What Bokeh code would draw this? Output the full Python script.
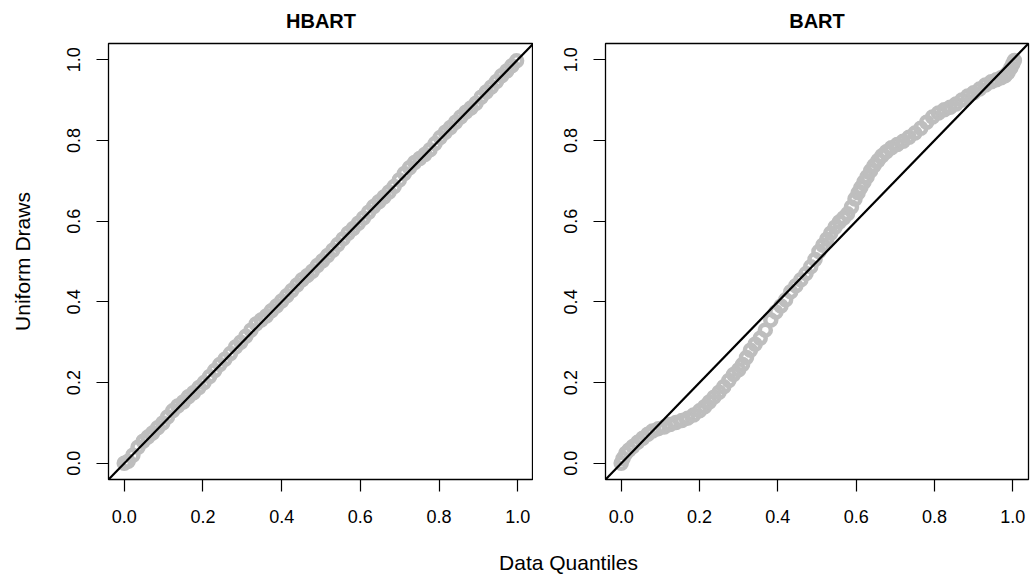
from bokeh.plotting import figure
from bokeh.layouts import row, column
from bokeh.models import Range1d, FixedTicker, Slope, Label
from bokeh.embed import file_html
from bokeh.resources import INLINE

# ---------------- data ----------------
ticks = [0.0, 0.2, 0.4, 0.6, 0.8, 1.0]
tick_labels = ["0.0", "0.2", "0.4", "0.6", "0.8", "1.0"]
panel_titles = ["HBART", "BART"]
x_label = "Data Quantiles"
y_label = "Uniform Draws"

hbart_x = [0.000, 0.010, 0.022, 0.035, 0.048, 0.060, 0.072, 0.085, 0.098, 0.110,
           0.123, 0.136, 0.150, 0.163, 0.176, 0.190, 0.203, 0.217, 0.230, 0.243,
           0.256, 0.270, 0.283, 0.296, 0.309, 0.322, 0.335, 0.348, 0.361, 0.374,
           0.387, 0.400, 0.413, 0.426, 0.439, 0.452, 0.465, 0.478, 0.491, 0.504,
           0.517, 0.530, 0.543, 0.556, 0.569, 0.582, 0.595, 0.608, 0.621, 0.634,
           0.647, 0.660, 0.673, 0.686, 0.699, 0.712, 0.725, 0.738, 0.751, 0.764,
           0.777, 0.790, 0.803, 0.816, 0.829, 0.842, 0.855, 0.868, 0.881, 0.894,
           0.907, 0.920, 0.933, 0.946, 0.959, 0.972, 0.985, 0.997]
hbart_y = [0.000, 0.005, 0.020, 0.040, 0.055, 0.065, 0.075, 0.088, 0.100, 0.115,
           0.130, 0.142, 0.152, 0.165, 0.175, 0.188, 0.200, 0.215, 0.230, 0.245,
           0.258, 0.272, 0.288, 0.300, 0.315, 0.330, 0.345, 0.355, 0.365, 0.378,
           0.390, 0.402, 0.415, 0.428, 0.442, 0.455, 0.465, 0.476, 0.490, 0.502,
           0.515, 0.528, 0.542, 0.556, 0.570, 0.582, 0.595, 0.608, 0.622, 0.636,
           0.648, 0.660, 0.672, 0.686, 0.702, 0.718, 0.732, 0.745, 0.755, 0.765,
           0.777, 0.792, 0.807, 0.820, 0.832, 0.845, 0.858, 0.870, 0.880, 0.892,
           0.907, 0.920, 0.932, 0.946, 0.960, 0.972, 0.985, 0.997]

bart_x = [0.000, 0.005, 0.012, 0.020, 0.030, 0.042, 0.055, 0.068, 0.080, 0.095,
          0.110, 0.125, 0.140, 0.155, 0.170, 0.185, 0.200, 0.213, 0.225, 0.237,
          0.250, 0.262, 0.275, 0.287, 0.300, 0.310, 0.320, 0.330, 0.342, 0.355,
          0.368, 0.382, 0.395, 0.408, 0.420, 0.433, 0.446, 0.459, 0.472, 0.484,
          0.495, 0.505, 0.515, 0.525, 0.535, 0.546, 0.557, 0.568, 0.578, 0.588,
          0.597, 0.605, 0.612, 0.620, 0.628, 0.637, 0.646, 0.656, 0.666, 0.677,
          0.690, 0.705, 0.720, 0.735, 0.750, 0.765, 0.780, 0.795, 0.810, 0.825,
          0.840, 0.855, 0.870, 0.885, 0.900, 0.915, 0.930, 0.945, 0.958, 0.970,
          0.980, 0.988, 0.995, 1.000, 1.004]
bart_y = [0.000, 0.012, 0.025, 0.033, 0.042, 0.052, 0.062, 0.072, 0.080, 0.086,
          0.090, 0.096, 0.101, 0.106, 0.112, 0.120, 0.130, 0.140, 0.152, 0.164,
          0.176, 0.190, 0.205, 0.220, 0.232, 0.245, 0.262, 0.280, 0.295, 0.310,
          0.330, 0.355, 0.375, 0.390, 0.405, 0.425, 0.440, 0.455, 0.470, 0.487,
          0.505, 0.525, 0.540, 0.555, 0.570, 0.585, 0.598, 0.608, 0.618, 0.635,
          0.655, 0.670, 0.683, 0.697, 0.710, 0.725, 0.738, 0.750, 0.762, 0.772,
          0.782, 0.790, 0.798, 0.808, 0.818, 0.830, 0.845, 0.858, 0.868, 0.876,
          0.882, 0.890, 0.900, 0.910, 0.918, 0.927, 0.937, 0.945, 0.950, 0.955,
          0.960, 0.968, 0.980, 0.990, 0.998]

FONT = "Liberation Sans"
POINT_COLOR = "#BEBEBE"
TOTAL_W = 1031


def strip(height):
    s = figure(width=TOTAL_W, height=height,
               x_range=Range1d(0, TOTAL_W), y_range=Range1d(0, height),
               output_backend="svg", toolbar_location=None,
               min_border_left=0, min_border_right=0,
               min_border_top=0, min_border_bottom=0)
    s.axis.visible = False
    s.xgrid.visible = False
    s.ygrid.visible = False
    s.outline_line_color = None
    return s


def make_panel(xs, ys, width, border_left, border_right, show_ylabel):
    p = figure(width=width, height=499,
               x_range=Range1d(-0.04, 1.04), y_range=Range1d(-0.04, 1.04),
               output_backend="svg", toolbar_location=None,
               min_border_left=border_left, min_border_right=border_right,
               min_border_top=2, min_border_bottom=61)
    p.background_fill_color = "white"
    p.border_fill_color = "white"
    p.outline_line_color = "black"
    p.outline_line_width = 1.3
    p.xgrid.visible = False
    p.ygrid.visible = False

    for ax in (p.xaxis[0], p.yaxis[0]):
        ax.ticker = FixedTicker(ticks=ticks)
        ax.major_label_overrides = {t: l for t, l in zip(ticks, tick_labels)}
        ax.axis_line_color = None
        ax.major_tick_line_color = "black"
        ax.major_tick_line_width = 1.2
        ax.major_tick_out = 12
        ax.major_tick_in = 0
        ax.minor_tick_line_color = None
        ax.major_label_text_font = FONT
        ax.major_label_text_font_size = "18px"
        ax.major_label_text_color = "black"
    p.xaxis[0].major_label_standoff = 18
    p.yaxis[0].major_label_standoff = 16
    p.yaxis[0].major_label_orientation = "parallel"

    if show_ylabel:
        p.yaxis[0].axis_label = y_label
        p.yaxis[0].axis_label_text_font = FONT
        p.yaxis[0].axis_label_text_font_size = "21px"
        p.yaxis[0].axis_label_text_font_style = "normal"
        p.yaxis[0].axis_label_text_color = "black"
        p.yaxis[0].axis_label_standoff = 31

    p.scatter(xs, ys, marker="circle", size=11, line_color=POINT_COLOR,
              line_width=4.5, fill_color=None)
    p.add_layout(Slope(gradient=1, y_intercept=0, line_color="black",
                       line_width=2.2))
    return p


# panel titles strip
top = strip(41)
for cx, t in zip([320.5, 816.5], panel_titles):
    top.add_layout(Label(x=cx, y=21, text=t, text_align="center",
                         text_baseline="middle", text_font=FONT,
                         text_font_size="20px", text_font_style="bold",
                         text_color="black"))

f1 = make_panel(hbart_x, hbart_y, 533, 108, 0, True)
f2 = make_panel(bart_x, bart_y, 498, 72, 3, False)

# bottom strip holding the shared x-axis label
bottom = strip(36)
bottom.add_layout(Label(x=568, y=14, text=x_label, text_align="center",
                        text_baseline="middle", text_font=FONT,
                        text_font_size="21px", text_color="black"))

layout = column(top, row(f1, f2), bottom)
open("out.html", "w").write(file_html(layout, INLINE))
